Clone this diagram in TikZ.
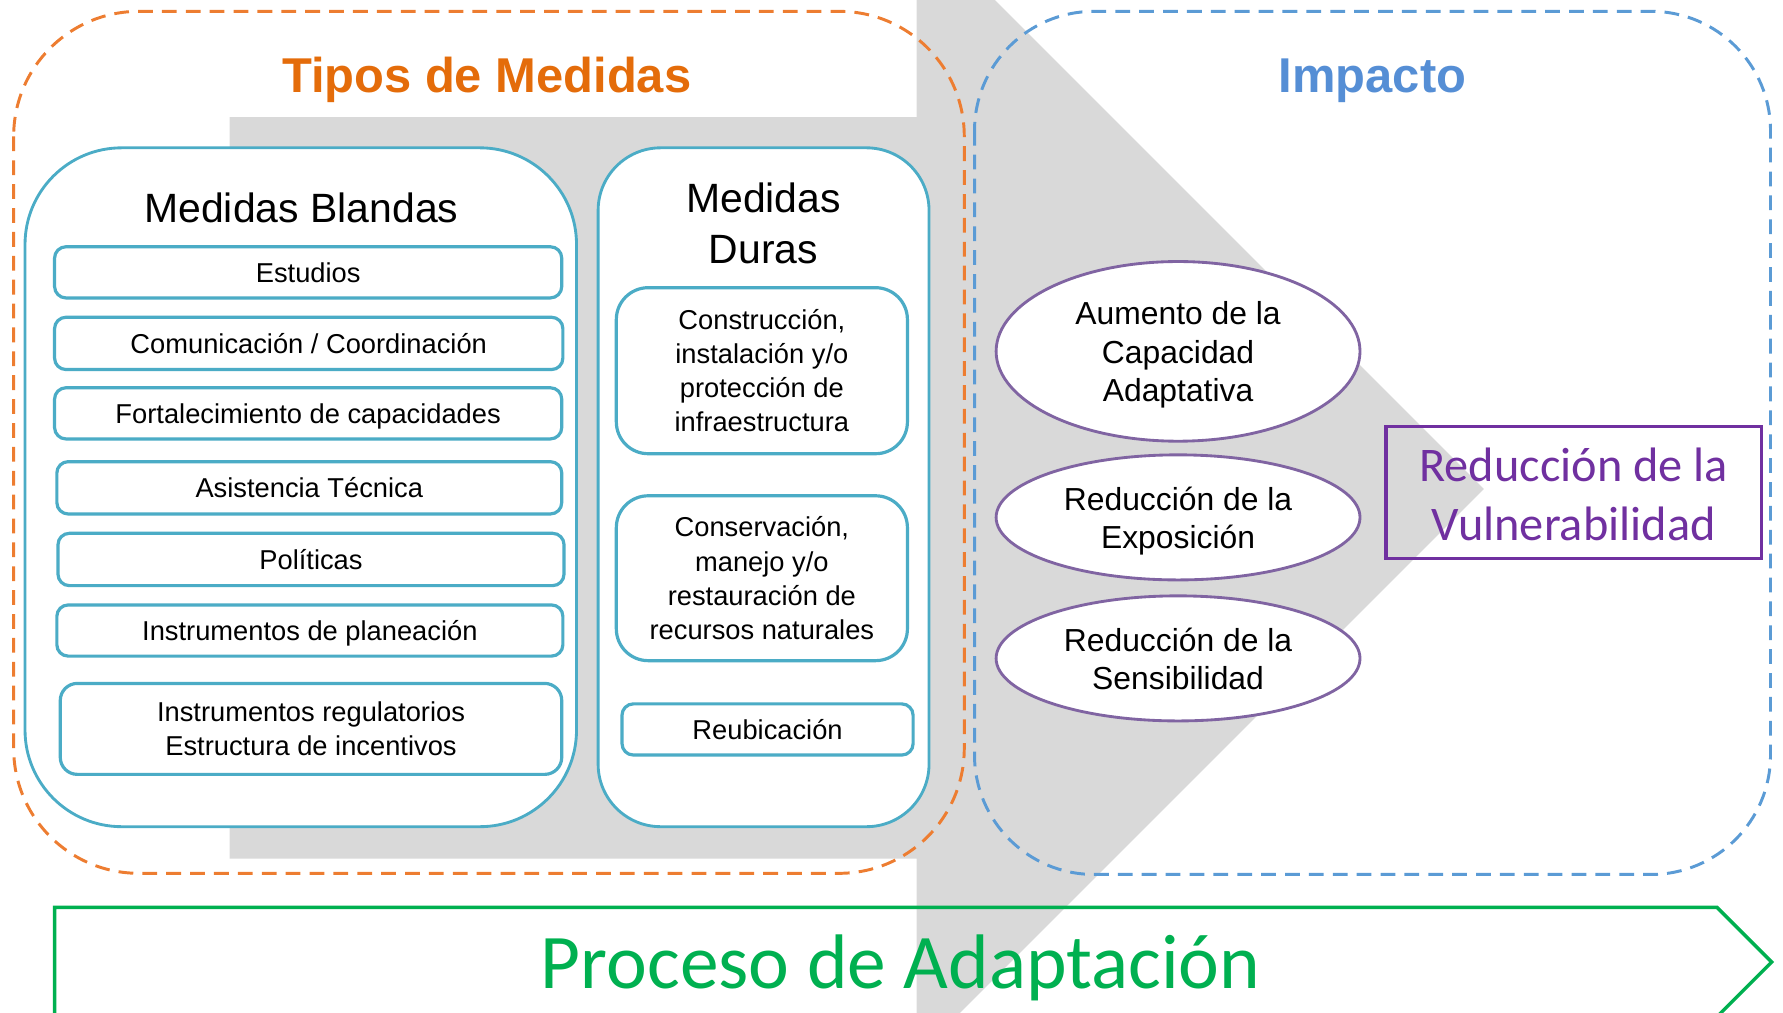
\documentclass[tikz,border=0pt]{standalone}
\usepackage{fontspec}
\setmainfont{Liberation Sans}
\newfontfamily\calibrifont{Carlito}
\usetikzlibrary{shapes.geometric}
\definecolor{orDash}{HTML}{ED7D31}
\definecolor{orTitle}{HTML}{E46C0A}
\definecolor{blDash}{HTML}{5B9BD5}
\definecolor{blTitle}{HTML}{558ED5}
\definecolor{tealc}{HTML}{4BACC6}
\definecolor{grayc}{HTML}{D9D9D9}
\definecolor{purpE}{HTML}{8064A2}
\definecolor{purpT}{HTML}{7030A0}
\definecolor{greenc}{HTML}{00B050}
\begin{document}
\begin{tikzpicture}[x=1pt,y=-1pt,
  bigbox/.style={draw=tealc, line width=2.5pt, fill=white, inner sep=0pt},
  itembox/.style={draw=tealc, line width=2.8pt, fill=white, rounded corners=10pt, inner sep=0pt, align=center, font=\fontsize{24}{30}\selectfont},
  oneline/.style={text height=17.5pt, text depth=0pt},
  ellip/.style={ellipse, draw=purpE, line width=2.5pt, fill=white, inner sep=0pt},
  elliptext/.style={align=center, inner sep=0pt, font=\fontsize{28}{33.5}\selectfont},
  dashbox/.style={line width=2.6pt, dash pattern=on 13pt off 8pt},
  titlefont/.style={anchor=base, font=\bfseries\fontsize{43}{50}\selectfont}
]
\useasboundingbox (0,0) rectangle (1568,890);
\begin{scope}
\clip (0,0) rectangle (1568,890);
\fill[grayc] (202,103) -- (806,103) -- (806,-69) -- (1305,430) -- (806,929) -- (806,755) -- (202,755) -- cycle;
\end{scope}

% dashed group frames
\draw[dashbox, draw=orDash, rounded corners=110pt] (12,10) rectangle (848,768);
\draw[dashbox, draw=blDash, rounded corners=105pt] (857,10) rectangle (1557,769);

% titles
\node[titlefont, text=orTitle] (tipos) at (428,81) {Tipos de Medidas};
\node[titlefont, text=blTitle] (impacto) at (1207,81) {Impacto};

% main boxes
\node[bigbox, rounded corners=85pt, minimum width=485pt, minimum height=597pt] (blandas) at (264.5,428.5) {};
\node[bigbox, rounded corners=55pt, minimum width=291pt, minimum height=597pt] (duras) at (671.5,428.5) {};
\node[anchor=base, font=\fontsize{36}{44}\selectfont] (tblandas) at (265,196) {Medidas Blandas};
\node[align=center, font=\fontsize{36}{44.8}\selectfont] (tduras) at (671.5,196.5) {Medidas\\Duras};

% medidas blandas items
\node[itembox, oneline, minimum width=446pt, minimum height=45pt] (estudios) at (271,239.5) {Estudios};
\node[itembox, oneline, minimum width=447pt, minimum height=46pt] (comunic) at (271.5,302) {Comunicación / Coordinación};
\node[itembox, oneline, minimum width=446pt, minimum height=45pt] (fortal) at (271,363.5) {Fortalecimiento de capacidades};
\node[itembox, oneline, minimum width=444pt, minimum height=46pt] (asist) at (272,429) {Asistencia Técnica};
\node[itembox, oneline, minimum width=445pt, minimum height=46pt] (politicas) at (273.5,492) {Políticas};
\node[itembox, oneline, minimum width=445pt, minimum height=45pt] (planea) at (272.5,554.5) {Instrumentos de planeación};
\node[itembox, rounded corners=15pt, minimum width=441pt, minimum height=80pt] (regula) at (273.5,641) {Instrumentos regulatorios\\Estructura de incentivos};

% medidas duras items
\node[itembox, rounded corners=28pt, minimum width=256pt, minimum height=146pt] (constr) at (670,326) {Construcción,\\instalación y/o\\protección de\\infraestructura};
\node[itembox, rounded corners=28pt, minimum width=256pt, minimum height=145pt] (conserv) at (670,508.5) {Conservación,\\manejo y/o\\restauración de\\recursos naturales};
\node[itembox, oneline, minimum width=256pt, minimum height=45pt] (reubic) at (675,641.5) {Reubicación};

% impacto
\node[ellip, minimum width=320pt, minimum height=158pt] (aumento) at (1036,309) {};
\node[elliptext] (aumentoT) at ([yshift=-3pt]aumento.center) {Aumento de la\\Capacidad\\Adaptativa};
\node[ellip, minimum width=320pt, minimum height=110pt] (exposic) at (1036,455) {};
\node[elliptext] (exposicT) at ([yshift=-3pt]exposic.center) {Reducción de la\\Exposición};
\node[ellip, minimum width=320pt, minimum height=110pt] (sensib) at (1036,579) {};
\node[elliptext] (sensibT) at ([yshift=-0.5pt]sensib.center) {Reducción de la\\Sensibilidad};
\node[draw=purpT, line width=3pt, minimum width=330pt, minimum height=116pt, inner sep=0pt] (vulner) at (1384,433) {};
\node[align=center, inner sep=0pt, text=purpT, font=\calibrifont\fontsize{42.5}{52}\selectfont] (vulnerT) at (1384,435) {Reducción de la\\Vulnerabilidad};

% proceso
\draw[greenc, line width=3pt] (48,798) -- (1510,798) -- (1558,846) -- (1510,894) -- (48,894) -- cycle;
\node[text=greenc, font=\calibrifont\fontsize{68}{80}\selectfont] (proceso) at (792,851) {Proceso de Adaptación};
\end{tikzpicture}
\end{document}
